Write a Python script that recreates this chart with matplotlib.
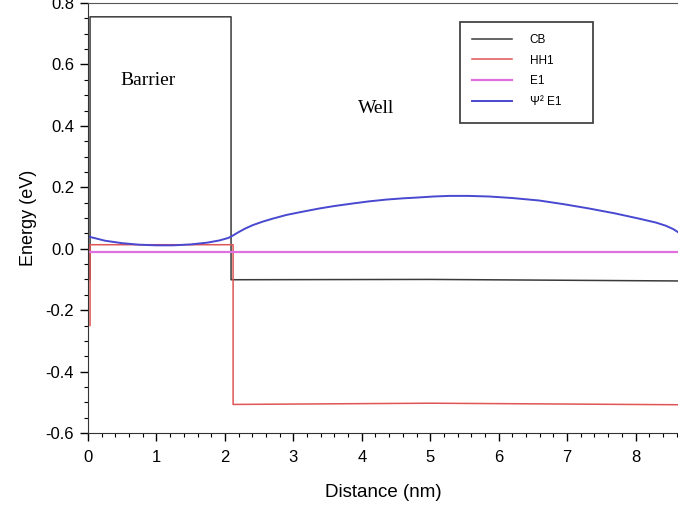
import matplotlib
matplotlib.use("Agg")
import matplotlib.pyplot as plt
from matplotlib.ticker import MultipleLocator
from matplotlib.patches import Rectangle

# conduction band
cb_x = [0.03, 0.03, 2.09, 2.09, 5.0, 8.62]
cb_y = [-0.10, 0.755, 0.755, -0.101, -0.100, -0.105]

# heavy hole
hh_x = [0.03, 0.03, 2.12, 2.12, 5.0, 8.62]
hh_y = [-0.25, 0.013, 0.013, -0.507, -0.503, -0.508]

# E1 level
e1_x = [0.0, 8.62]
e1_y = [-0.010, -0.010]

# psi^2 of E1
psi_x = [0.0, 0.25, 0.5, 0.75, 1.0, 1.25, 1.5, 1.75, 1.92, 2.05, 2.11, 2.2, 2.3, 2.41,
         2.55, 2.7, 2.9, 3.1, 3.38, 3.6, 3.86, 4.1, 4.36, 4.6, 4.84, 5.05, 5.28, 5.55,
         5.86, 6.2, 6.59, 6.95, 7.32, 7.7, 8.05, 8.3, 8.44, 8.55, 8.62]
psi_y = [0.040, 0.026, 0.018, 0.013, 0.011, 0.011, 0.014, 0.020, 0.027, 0.035, 0.042,
         0.054, 0.066, 0.077, 0.088, 0.098, 0.110, 0.119, 0.131, 0.139, 0.147, 0.154,
         0.160, 0.164, 0.167, 0.170, 0.172, 0.172, 0.170, 0.165, 0.157, 0.145, 0.131,
         0.115, 0.098, 0.085, 0.075, 0.064, 0.054]

fig = plt.figure(figsize=(6.78, 5.08), dpi=100)
ax = fig.add_axes([88/678, 1-433/508, 1-88/678, 430/508])

ax.plot(cb_x, cb_y, color="#3a3a3a", lw=1.1, label="CB")
ax.plot(hh_x, hh_y, color="#e05555", lw=1.1, label="HH1")
ax.plot(e1_x, e1_y, color="#e070e0", lw=1.6, label="E1")
ax.plot(psi_x, psi_y, color="#4848d0", lw=1.4, label="Ψ² E1")

ax.set_xlim(0, 8.62)
ax.set_ylim(-0.6, 0.8)
ax.xaxis.set_major_locator(MultipleLocator(1))
ax.xaxis.set_minor_locator(MultipleLocator(0.2))
ax.yaxis.set_major_locator(MultipleLocator(0.2))
ax.yaxis.set_minor_locator(MultipleLocator(0.05))
ax.yaxis.set_major_formatter(plt.FuncFormatter(lambda v, p: "%.1f" % v))
ax.tick_params(which="major", length=6, width=1, labelsize=12, pad=4)
ax.tick_params(axis="x", which="major", pad=6)
ax.tick_params(which="minor", length=3, width=0.8)
for lab in ax.get_xticklabels() + ax.get_yticklabels():
    lab.set_fontfamily("Liberation Sans")
ax.spines["right"].set_visible(False)
ax.spines["top"].set_color("#555555")
ax.spines["left"].set_color("#333333")
ax.spines["bottom"].set_color("#333333")

ax.set_xlabel("Distance (nm)", fontsize=13.5, family="Liberation Sans", labelpad=14)
ax.set_ylabel("Energy (eV)", fontsize=13, family="Liberation Sans", labelpad=6)

ax.text(0.47, 0.533, "Barrier", fontsize=14, family="Liberation Serif")
ax.text(3.94, 0.442, "Well", fontsize=14, family="Liberation Serif")

# legend box drawn separately so its padding matches the original
fig.patches.append(Rectangle((460/678, 1-123/508), 133/678, 101/508,
                             transform=fig.transFigure, fill=False,
                             ec="#444444", lw=1.3))
leg = ax.legend(loc="center left", bbox_to_anchor=(472/678, 1-71/508),
                bbox_transform=fig.transFigure, frameon=False,
                prop={"family": "Liberation Sans", "size": 8.5},
                handlelength=3.4, handletextpad=1.5, labelspacing=0.75,
                borderpad=0, borderaxespad=0)

fig.savefig("out.png", dpi=100)
